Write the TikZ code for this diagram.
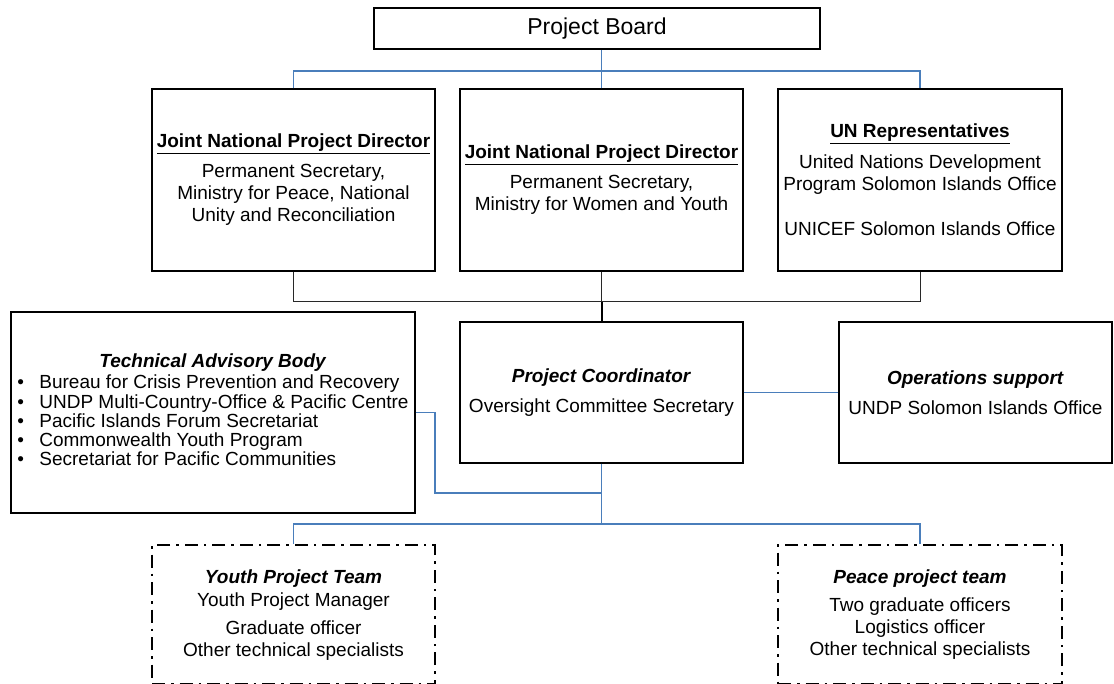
\documentclass[tikz,border=0pt]{standalone}
\usepackage{fontspec}
\setmainfont{Liberation Sans}
\newcommand\orgfont{\fontsize{19}{22}\selectfont}
\newcommand\headu[1]{\underline{\textbf{#1}}}
\newcommand\headi[1]{\textbf{\textit{#1}}}
\begin{document}
\begin{tikzpicture}[x=1pt,y=-1pt,
  box/.style={draw=black, line width=1.4pt, inner sep=0pt, align=center, font=\orgfont},
  teambox/.style={draw=black, line width=2.6pt, dash pattern=on 13pt off 6pt on 2.5pt off 6pt,
    inner sep=0pt, align=center, font=\orgfont},
  bluelink/.style={draw={rgb,255:red,74;green,126;blue,187}, line width=1.3pt},
  greylink/.style={draw={rgb,255:red,40;green,40;blue,40}, line width=1pt},
  blacklink/.style={draw=black, line width=2pt}]
\useasboundingbox[fill=white] (0,0) rectangle (1114,684);

% boxes
\node[box, minimum width=446pt, minimum height=41pt, font=\fontsize{23}{26}\selectfont]
  (pb) at (597,28.5) {Project Board};

\node[box, minimum width=283pt, minimum height=182pt] (jnp1) at (293.5,180)
  {\headu{Joint National Project Director}\\[8pt]
   Permanent Secretary,\\ Ministry for Peace, National\\ Unity and Reconciliation};

\node[box, minimum width=283pt, minimum height=182pt] (jnp2) at (601.5,180)
  {\headu{Joint National Project Director}\\[8pt]
   Permanent Secretary,\\ Ministry for Women and Youth};

\node[box, minimum width=284pt, minimum height=182pt] (unr) at (920,180)
  {\headu{UN Representatives}\\[9pt]
   United Nations Development\\ Program Solomon Islands Office\\[23pt]
   UNICEF Solomon Islands Office};

\node[box, minimum width=404pt, minimum height=201pt, font=\fontsize{19}{18.2}\selectfont]
  (tab) at (213,412.5)
  {\begin{tabular}{@{}p{22pt}@{}l@{}}
   \multicolumn{2}{c}{\headi{Technical Advisory Body}}\\[2pt]
   \textbullet & Bureau for Crisis Prevention and Recovery\\
   \textbullet & UNDP Multi-Country-Office \& Pacific Centre\\
   \textbullet & Pacific Islands Forum Secretariat\\
   \textbullet & Commonwealth Youth Program\\
   \textbullet & Secretariat for Pacific Communities
   \end{tabular}};

\node[box, minimum width=283pt, minimum height=141pt] (pc) at (601.5,392.5)
  {\headi{Project Coordinator}\\[8pt] Oversight Committee Secretary};

\node[box, minimum width=273pt, minimum height=141pt] (ops) at (975.5,392.5)
  {\headi{Operations support}\\[8pt] UNDP Solomon Islands Office};

% team boxes run down to the lower edge of the sheet
\node[teambox, minimum width=283pt, minimum height=139.5pt] (ypt) at (293.5,614.75)
  {\headi{Youth Project Team}\\[1pt] Youth Project Manager\\[6pt]
   Graduate officer\\ Other technical specialists};

\node[teambox, minimum width=284pt, minimum height=139.5pt] (ppt) at (920,614.75)
  {\headi{Peace project team}\\[6pt] Two graduate officers\\
   Logistics officer\\ Other technical specialists};

% bus levels
\coordinate (tbus) at (0,71);
\coordinate (mbus) at (0,302);
\coordinate (bbus) at (0,524);
\coordinate (tabjog) at (435,493);

% board to directors
\draw[bluelink] (jnp2.north) -- (jnp2.north |- pb.south);
\draw[bluelink] (jnp1.north) -- (jnp1.north |- tbus) -- (unr.north |- tbus) -- (unr.north);

% directors to coordinator
\draw[greylink] (jnp1.south) -- (jnp1.south |- mbus) -- (unr.south |- mbus) -- (unr.south);
\draw[greylink] (jnp2.south) -- (jnp2.south |- mbus);
\draw[blacklink] (jnp2.south |- mbus) -- (pc.north);

% coordinator links
\draw[bluelink] (pc.east) -- (ops.west);
\draw[bluelink] (tab.east) -| (tabjog) -- (tabjog -| pc.south);
\draw[bluelink] (pc.south) -- (pc.south |- bbus);
\draw[bluelink] (ypt.north) -- (ypt.north |- bbus) -- (ppt.north |- bbus) -- (ppt.north);
\end{tikzpicture}
\end{document}
